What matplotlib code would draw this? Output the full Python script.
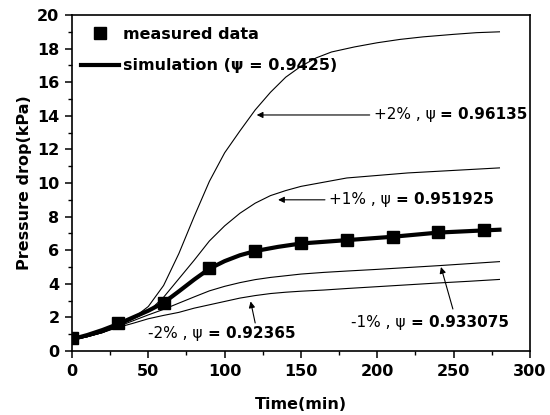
import numpy as np
import matplotlib
matplotlib.use("Agg")
import matplotlib.pyplot as plt
from matplotlib.ticker import MultipleLocator

# measured points
t_meas = [0, 30, 60, 90, 120, 150, 180, 210, 240, 270]
p_meas = [0.77, 1.67, 2.86, 4.94, 5.95, 6.43, 6.6, 6.8, 7.08, 7.2]

# simulation (psi = 0.9425)
t_sim = [0, 10, 20, 30, 40, 50, 60, 70, 80, 90, 100, 110, 120, 135, 150, 165, 180, 210, 240, 270, 280]
p_sim = [0.7, 0.95, 1.25, 1.6, 2.0, 2.4, 2.87, 3.55, 4.25, 4.9, 5.35, 5.7, 5.95, 6.2, 6.4, 6.5, 6.6, 6.8, 7.05, 7.18, 7.22]

# +2 %
t_p2 = [0, 10, 20, 30, 40, 50, 60, 70, 80, 90, 100, 110, 120, 130, 140, 150, 160, 170, 185, 200, 215, 230, 250, 265, 280]
p_p2 = [0.65, 0.85, 1.1, 1.5, 1.95, 2.65, 3.9, 5.8, 8.0, 10.1, 11.8, 13.1, 14.35, 15.4, 16.3, 16.95, 17.45, 17.8, 18.1, 18.35, 18.55, 18.7, 18.85, 18.95, 19.0]

# +1 %, -1 %, -2 %
t_c = [0, 10, 20, 30, 40, 50, 60, 70, 80, 90, 100, 110, 120, 130, 140, 150, 165, 180, 200, 220, 240, 260, 280]
p_p1 = [0.65, 0.85, 1.1, 1.5, 1.9, 2.35, 3.2, 4.3, 5.4, 6.55, 7.45, 8.2, 8.8, 9.25, 9.55, 9.8, 10.05, 10.3, 10.45, 10.6, 10.7, 10.8, 10.9]
p_m1 = [0.65, 0.85, 1.1, 1.45, 1.8, 2.15, 2.48, 2.85, 3.22, 3.58, 3.85, 4.07, 4.25, 4.38, 4.48, 4.58, 4.68, 4.76, 4.86, 4.97, 5.08, 5.2, 5.32]
p_m2 = [0.65, 0.85, 1.1, 1.4, 1.65, 1.92, 2.12, 2.3, 2.55, 2.75, 2.95, 3.15, 3.3, 3.42, 3.5, 3.56, 3.63, 3.72, 3.83, 3.94, 4.05, 4.15, 4.26]

fig = plt.figure(figsize=(5.5, 4.15), dpi=100)
ax = fig.add_axes([0.1309, 0.1542, 0.8327, 0.8096])

ax.plot(t_p2, p_p2, color='black', lw=0.8)
ax.plot(t_c, p_p1, color='black', lw=0.8)
ax.plot(t_c, p_m1, color='black', lw=0.8)
ax.plot(t_c, p_m2, color='black', lw=0.8)
ax.plot(t_meas, p_meas, 's', color='black', ms=8, label='measured data')
ax.plot(t_sim, p_sim, '-', color='black', lw=3, label='simulation (ψ = 0.9425)')

ax.set_xlim(0, 300)
ax.set_ylim(0, 20)
ax.xaxis.set_major_locator(MultipleLocator(50))
ax.xaxis.set_minor_locator(MultipleLocator(25))
ax.yaxis.set_major_locator(MultipleLocator(2))
ax.yaxis.set_minor_locator(MultipleLocator(1))
ax.tick_params(which='major', direction='out', length=5, width=1.1, labelsize=11.5, pad=4)
ax.tick_params(which='minor', direction='out', length=3, width=1.0)
for lab in ax.get_xticklabels() + ax.get_yticklabels():
    lab.set_fontweight('bold')
for s in ax.spines.values():
    s.set_linewidth(1.2)

ax.set_xlabel('Time(min)', fontsize=11.5, fontweight='bold', labelpad=13)
ax.set_ylabel('Pressure drop(kPa)', fontsize=11.5, fontweight='bold', labelpad=4)

leg = ax.legend(loc='upper left', bbox_to_anchor=(-0.012, 1.008), frameon=False, numpoints=1,
                handlelength=2.4, handletextpad=0.25, labelspacing=1.05,
                prop={'weight': 'bold', 'size': 11.5})

arw = dict(arrowstyle='-|>', color='black', lw=0.8, mutation_scale=9, shrinkA=0, shrinkB=0)
fs = 11


def label(x, y, pct, val):
    t1 = ax.text(x, y, pct + ' , ψ ', fontsize=fs, va='center', ha='left')
    ax.annotate('= ' + val, xy=(1, 0.5), xycoords=t1, va='center', ha='left',
                fontsize=fs, fontweight='bold')


ax.annotate('', xy=(121, 14.05), xytext=(195, 14.05), arrowprops=arw)
label(197.5, 14.05, '+2%', '0.96135')

ax.annotate('', xy=(135, 9.0), xytext=(165.7, 9.0), arrowprops=arw)
label(168.5, 9.0, '+1%', '0.951925')

ax.annotate('', xy=(241.7, 5.0), xytext=(249.5, 2.5), arrowprops=arw)
label(183, 1.67, '-1%', '0.933075')

ax.annotate('', xy=(117, 2.95), xytext=(120, 1.67), arrowprops=arw)
label(50, 1.07, '-2%', '0.92365')

fig.savefig('out.png', dpi=100)
